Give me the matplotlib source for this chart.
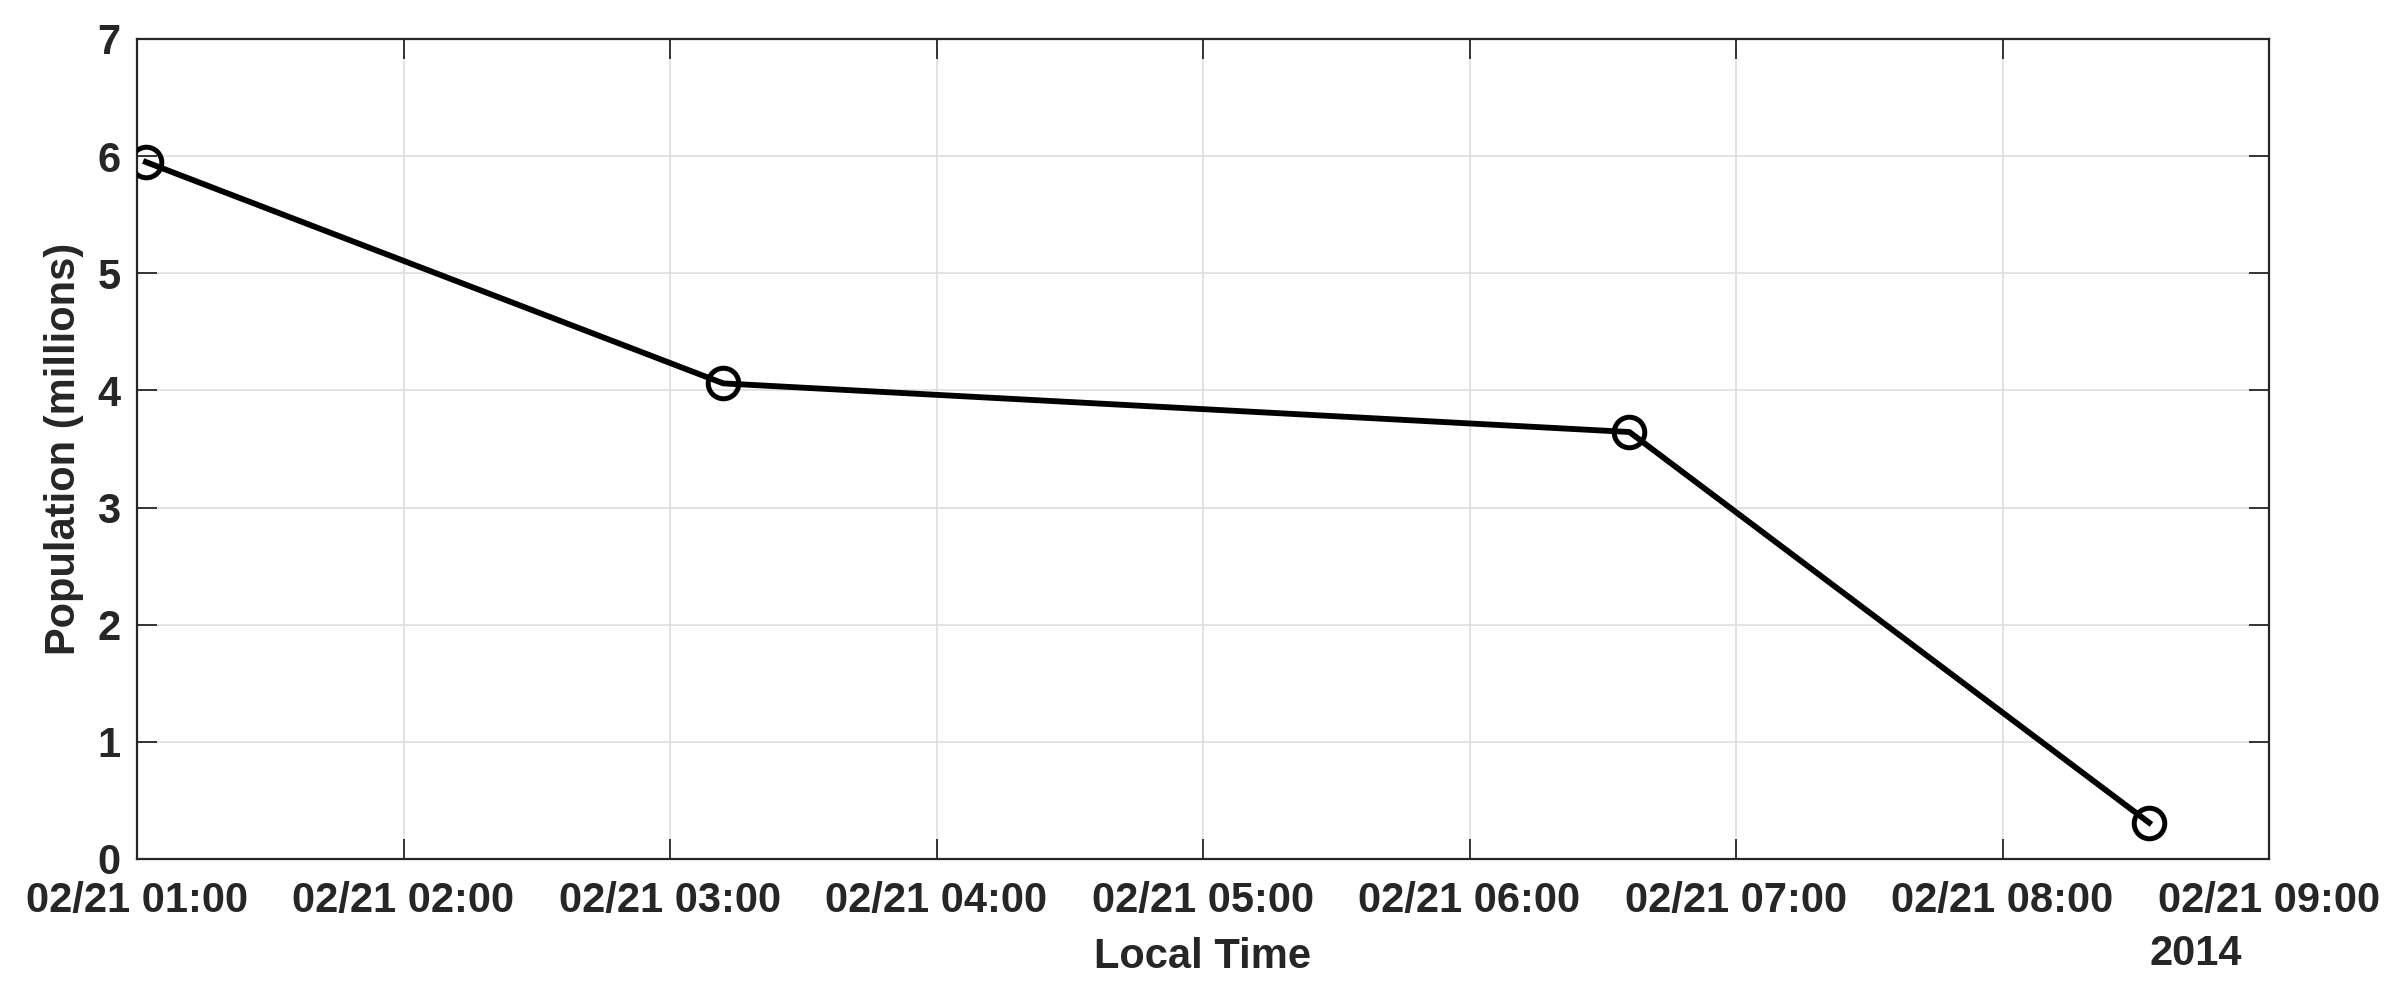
import matplotlib
matplotlib.use("Agg")
import matplotlib.pyplot as plt
import matplotlib.dates as mdates
import numpy as np
from datetime import datetime

# Data
times = ["2014-02-21 01:02", "2014-02-21 03:12", "2014-02-21 06:36", "2014-02-21 08:33"]
population = [5.95, 4.06, 3.645, 0.31]
yticks = [0, 1, 2, 3, 4, 5, 6, 7]
xtick_hours = [1, 2, 3, 4, 5, 6, 7, 8, 9]

t = [datetime.strptime(s, "%Y-%m-%d %H:%M") for s in times]

plt.rcParams['font.family'] = ['Liberation Sans', 'DejaVu Sans']
plt.rcParams['font.weight'] = 'bold'

W, H = 2397, 1000
fig = plt.figure(figsize=(W / 100, H / 100), dpi=100)
ax = fig.add_axes([137 / W, 1 - 859 / H, (2269 - 137) / W, (859 - 39) / H])

txtc = '#262626'
ax.plot(t, population, color='black', linewidth=4.2, marker='o', markersize=22,
        markerfacecolor='none', markeredgecolor='black', markeredgewidth=3.6, zorder=3)

ax.set_xlim(datetime(2014, 2, 21, 1, 0), datetime(2014, 2, 21, 9, 0))
ax.set_ylim(0, 7)
ax.set_yticks(yticks)
ax.set_xticks([datetime(2014, 2, 21, h, 0) for h in xtick_hours])
ax.xaxis.set_major_formatter(mdates.DateFormatter('%m/%d %H:%M'))

ax.grid(True, color='#dedede', linewidth=1.2)
ax.set_axisbelow(True)
for sp in ax.spines.values():
    sp.set_color(txtc)
    sp.set_linewidth(1.6)

ax.tick_params(axis='both', which='major', direction='in', length=14.5, width=1.3,
               color=txtc, labelcolor=txtc, labelsize=30, top=True, right=True)
ax.tick_params(axis='x', pad=16)
ax.tick_params(axis='y', pad=12)
for lbl in ax.get_xticklabels() + ax.get_yticklabels():
    lbl.set_fontweight('bold')

fig.text(1203 / W, 1 - 957 / H, 'Local Time', ha='center', va='center',
         fontsize=30, fontweight='bold', color=txtc)
fig.text(2196 / W, 1 - 954 / H, '2014', ha='center', va='center',
         fontsize=30, fontweight='bold', color=txtc)
fig.text(64 / W, 1 - 449 / H, 'Population (millions)', ha='center', va='center',
         rotation=90, fontsize=30, fontweight='bold', color=txtc)

fig.savefig('out.png', dpi=100)
